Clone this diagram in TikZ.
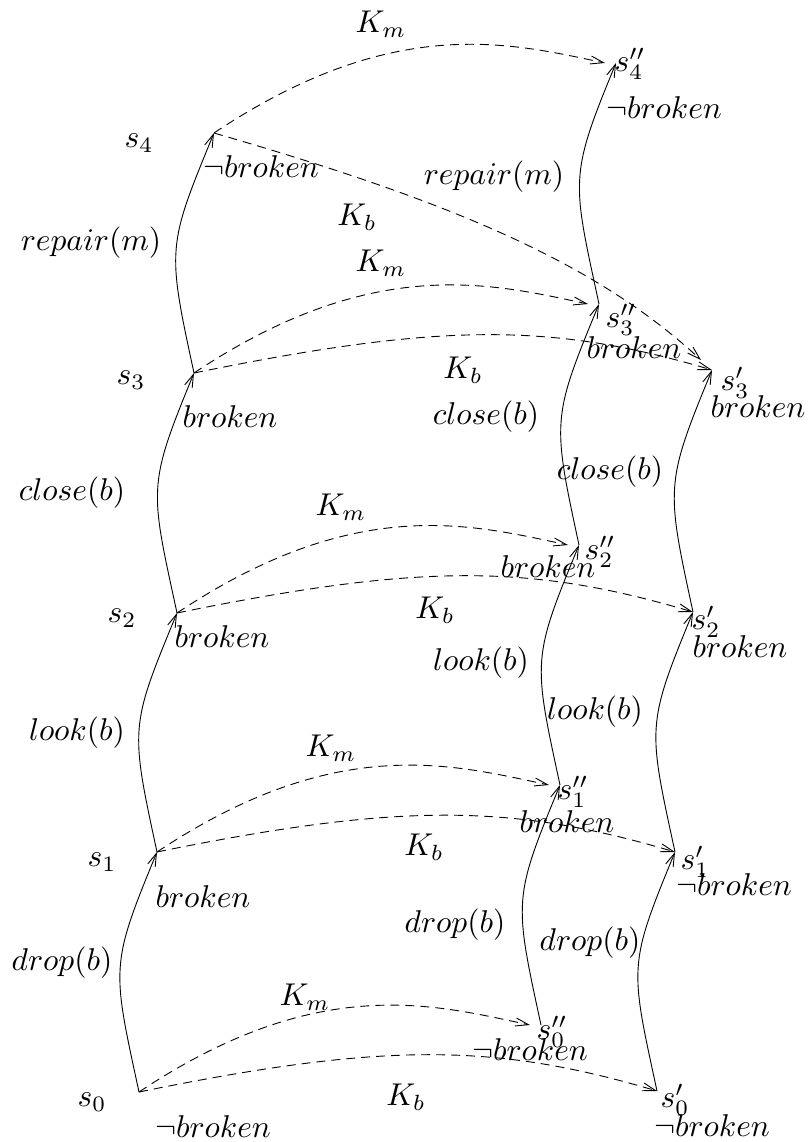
\documentclass[tikz,border=0pt]{standalone}
\usetikzlibrary{arrows.meta}
\begin{document}
\begin{tikzpicture}[x=1pt,y=-1pt,
  lab/.style={font=\normalsize, inner sep=0pt, anchor=center, scale=3.15},
  trans/.style={line width=0.9pt, -{Straight Barb[length=13pt,width=8pt,line width=0.9pt]}},
  know/.style={trans, dash pattern=on 9pt off 6pt},
  act/.style={trans}]
\useasboundingbox (0,0) rectangle (811,1142);
% states
\coordinate (s0) at (139,1092);
\coordinate (s1) at (157,852);
\coordinate (s2) at (177,613);
\coordinate (s3) at (194,373);
\coordinate (s4) at (214,133);
\coordinate (t0) at (657,1091);
\coordinate (t1) at (675,852);
\coordinate (t2) at (693,612);
\coordinate (t3) at (712,370);
\coordinate (u0) at (541,1025);
\coordinate (u1) at (560,785);
\coordinate (u2) at (579,545);
\coordinate (u3) at (599,304);
\coordinate (u4) at (616,63);
% action transitions
\foreach \a/\b in {s0/s1,s1/s2,s2/s3,s3/s4,u0/u1,u1/u2,u2/u3,u3/u4,t0/t1,t1/t2,t2/t3}
  \draw[act] (\a) .. controls +(-27,-125) and +(-47,114) .. (\b);
% knowledge relations
\foreach \i in {0,1,2,3}{
  \draw[know] (s\i) .. controls +(245,-50) and +(-162,-48) .. (t\i);
}
\foreach \i in {0,1,2,3,4}{
  \draw[know] (s\i) .. controls +(180,-120) and +(-95,-20) .. ([xshift=-11pt]u\i);
}
\draw[know] (s4) .. controls (445,200) and (593,260) .. ([shift={(-11,-10)}]t3);
% left labels
\node[lab] (ls4) at (139,143) {$s_4$};
\node[lab] (fs4) at (261,167) {$\neg broken$};
\node[lab] (a3) at (91,243) {$repair(m)$};
\node[lab] (ls3) at (131,380) {$s_3$};
\node[lab] (fs3) at (230,417) {$broken$};
\node[lab] (a2) at (72,493) {$close(b)$};
\node[lab] (ls2) at (122,618) {$s_2$};
\node[lab] (fs2) at (222,637) {$broken$};
\node[lab] (a1) at (77,733) {$look(b)$};
\node[lab] (ls1) at (102,862) {$s_1$};
\node[lab] (fs1) at (203,897) {$broken$};
\node[lab] (a0) at (62,963) {$drop(b)$};
\node[lab] (ls0) at (92,1102) {$s_0$};
\node[lab] (fs0) at (213,1127) {$\neg broken$};
% middle labels
\node[lab] (km4) at (381,24) {$K_m$};
\node[lab] (ma3) at (494,177) {$repair(m)$};
\node[lab] (kb4) at (357,217) {$K_b$};
\node[lab] (km3) at (381,263) {$K_m$};
\node[lab] (kb3) at (463,370) {$K_b$};
\node[lab] (ma2) at (486,417) {$close(b)$};
\node[lab] (km2) at (341,507) {$K_m$};
\node[lab] (kb2) at (435,610) {$K_b$};
\node[lab] (ma1) at (481,663) {$look(b)$};
\node[lab] (km1) at (331,748) {$K_m$};
\node[lab] (kb1) at (424,847) {$K_b$};
\node[lab] (ma0) at (455,925) {$drop(b)$};
\node[lab] (km0) at (305,997) {$K_m$};
\node[lab] (kb0) at (406,1097) {$K_b$};
% right labels
\node[lab] (lu4) at (630,64) {$s''_4$};
\node[lab] (fu4) at (664,108) {$\neg broken$};
\node[lab] (lu3) at (621,320) {$s''_3$};
\node[lab] (fu3) at (634,348) {$broken$};
\node[lab] (lt3) at (735,383) {$s'_3$};
\node[lab] (ft3) at (758,407) {$broken$};
\node[lab] (ra2) at (610,472) {$close(b)$};
\node[lab] (lu2) at (600,552) {$s''_2$};
\node[lab] (fu2) at (548,567) {$broken$};
\node[lab] (lt2) at (706,622) {$s'_2$};
\node[lab] (ft2) at (740,647) {$broken$};
\node[lab] (ra1) at (595,712) {$look(b)$};
\node[lab] (lu1) at (573,792) {$s''_1$};
\node[lab] (fu1) at (567,822) {$broken$};
\node[lab] (lt1) at (695,862) {$s'_1$};
\node[lab] (ft1) at (734,885) {$\neg broken$};
\node[lab] (ra0) at (590,943) {$drop(b)$};
\node[lab] (lu0) at (552,1032) {$s''_0$};
\node[lab] (fu0) at (530,1050) {$\neg broken$};
\node[lab] (lt0) at (675,1100) {$s'_0$};
\node[lab] (ft0) at (712,1126) {$\neg broken$};
\end{tikzpicture}
\end{document}
